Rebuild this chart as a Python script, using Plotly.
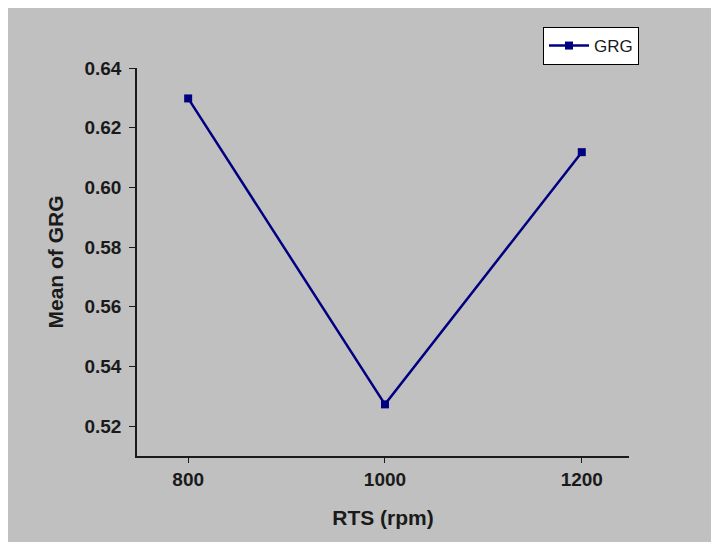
import plotly.graph_objects as go

rts = [800, 1000, 1200]
grg = [0.6298, 0.5273, 0.6118]
y_ticks = [0.52, 0.54, 0.56, 0.58, 0.60, 0.62, 0.64]
x_ticks = [800, 1000, 1200]

W, H = 719, 542
OFF = 8  # page body margin
L, T = 137 - OFF, 68 - OFF
pw, ph = 492, 388
R, B = W - L - pw, H - T - ph

fig = go.Figure()
fig.add_trace(go.Scatter(
    x=rts, y=grg, mode="lines+markers", name="GRG",
    line=dict(color="#000080", width=2.5),
    marker=dict(symbol="square", size=8, color="#000080"),
))

font_tick = dict(family="Liberation Sans, Arial", size=19, color="#1a1a1a", weight="bold")
fig.update_layout(
    width=W, height=H,
    margin=dict(l=L, r=R, t=T, b=B),
    paper_bgcolor="#c0c0c0", plot_bgcolor="#c0c0c0",
    showlegend=True,
    legend=dict(x=(543 - OFF - L) / pw, y=1 + (T - (27 - OFF)) / ph,
                xanchor="left", yanchor="top",
                bgcolor="white", bordercolor="black", borderwidth=1,
                font=dict(family="Liberation Sans, Arial", size=17, color="#1a1a1a"),
                itemwidth=40, tracegroupgap=0),
    xaxis=dict(range=[748, 1248], tickvals=x_ticks, ticktext=[str(v) for v in x_ticks],
               showgrid=False, zeroline=False, showline=True, linecolor="#1a1a1a", linewidth=1.5,
               ticks="outside", ticklen=5, tickcolor="#1a1a1a", tickfont=font_tick,
               title=dict(text="RTS (rpm)", font=dict(family="Liberation Sans, Arial", size=21, color="#1a1a1a", weight="bold"), standoff=22)),
    yaxis=dict(range=[0.51, 0.64], tickvals=y_ticks, ticktext=[f"{v:.2f}" for v in y_ticks],
               showgrid=False, zeroline=False, showline=True, linecolor="#1a1a1a", linewidth=1.5,
               ticks="outside", ticklen=6, tickcolor="#1a1a1a", tickfont=font_tick,
               ticklabelstandoff=4,
               title=dict(text="Mean of GRG", font=dict(family="Liberation Sans, Arial", size=21, color="#1a1a1a", weight="bold"), standoff=15)),
)
fig.write_html("out.html")
